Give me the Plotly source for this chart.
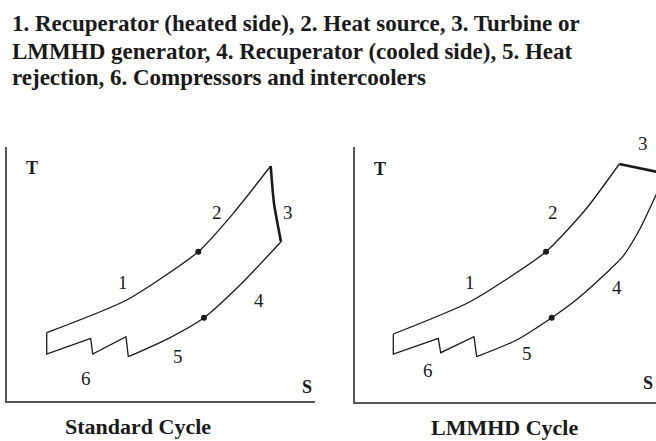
import plotly.graph_objects as go

# ---------------- data (entropy S, temperature T, arbitrary units) ----------------
TITLE_LINES = [
    "1. Recuperator (heated side), 2. Heat source, 3. Turbine or",
    "LMMHD generator, 4. Recuperator (cooled side), 5. Heat",
    "rejection, 6. Compressors and intercoolers",
]

# Standard cycle
std_heat_s = [39.7, 119.7, 191.3, 226.3, 263.7]
std_heat_t = [68.3, 101.0, 149.3, 187.7, 235.0]
std_turb_s = [263.7, 267.0, 274.0]
std_turb_t = [235.0, 197.7, 159.3]
std_cool_s = [274.0, 236.3, 197.0, 159.7, 121.3]
std_cool_t = [159.3, 119.3, 83.3, 61.7, 44.3]
std_comp_s = [121.3, 119.0, 85.7, 83.7, 39.7, 39.7]
std_comp_t = [44.3, 64.3, 47.0, 62.7, 47.0, 68.3]
std_dot_s = [191.3, 197.0]
std_dot_t = [149.3, 83.3]
std_lbl = ["1", "2", "3", "4", "5", "6"]
std_lbl_s = [116, 210, 281, 252, 171, 79]
std_lbl_t = [119, 189, 189, 101, 45, 23]

# LMMHD cycle
mhd_heat_s = [38.3, 115.0, 191.0, 231.0, 264.3]
mhd_heat_t = [68.0, 100.3, 150.3, 193.0, 238.0]
mhd_turb_s = [264.3, 301.0, 315.0]
mhd_turb_t = [238.0, 230.3, 227.4]
mhd_cool_s = [308.0, 301.0, 284.3, 267.7, 251.0, 221.0, 196.7, 161.7, 121.7]
mhd_cool_t = [222.0, 207.0, 172.0, 145.3, 128.7, 102.0, 84.3, 62.0, 45.3]
mhd_comp_s = [121.7, 119.0, 85.7, 83.3, 38.3, 38.3]
mhd_comp_t = [45.3, 65.3, 49.3, 63.7, 48.0, 68.0]
mhd_dot_s = [191.0, 196.7]
mhd_dot_t = [150.3, 84.3]
mhd_lbl = ["1", "2", "3", "4", "5", "6"]
mhd_lbl_s = [115, 198, 288, 262, 172, 73]
mhd_lbl_t = [120, 190, 258, 115, 49, 32]

SERIF = "Liberation Serif, Times New Roman, serif"
INK = "#1a1a1a"

fig = go.Figure()


def add_cycle(xa, ya, heat, turb, cool, comp, dots):
    for (s, t), w, smooth in ((heat, 1.3, True), (cool, 1.3, True),
                              (comp, 1.3, False), (turb, 2.6, True)):
        line = dict(color=INK, width=w)
        if smooth:
            line.update(shape="spline", smoothing=0.6)
        fig.add_trace(go.Scatter(x=s, y=t, mode="lines", xaxis=xa, yaxis=ya, line=line,
                                 hoverinfo="skip", showlegend=False))
    fig.add_trace(go.Scatter(x=dots[0], y=dots[1], mode="markers", xaxis=xa, yaxis=ya,
                             marker=dict(color=INK, size=6), hoverinfo="skip", showlegend=False))


add_cycle("x", "y", (std_heat_s, std_heat_t), (std_turb_s, std_turb_t),
          (std_cool_s, std_cool_t), (std_comp_s, std_comp_t), (std_dot_s, std_dot_t))
add_cycle("x2", "y2", (mhd_heat_s, mhd_heat_t), (mhd_turb_s, mhd_turb_t),
          (mhd_cool_s, mhd_cool_t), (mhd_comp_s, mhd_comp_t), (mhd_dot_s, mhd_dot_t))

# panel geometry in pixels (used to place labels that sit outside a plot area)
PANEL2_X0, PANEL2_Y0, W, H = 355, 402, 656, 441

ann = []
for lbls, ss, ts, xr, yr in ((std_lbl, std_lbl_s, std_lbl_t, "x", "y"),
                             (mhd_lbl, mhd_lbl_s, mhd_lbl_t, "x2", "y2")):
    for l, s, t in zip(lbls, ss, ts):
        if xr == "x2" and t > 254:
            # label above the plot area: place it on the paper
            ann.append(dict(x=(PANEL2_X0 + s) / W, y=1 - (PANEL2_Y0 - t) / H,
                            xref="paper", yref="paper", xanchor="center", yanchor="middle",
                            text=l, showarrow=False,
                            font=dict(family=SERIF, size=19, color=INK)))
        else:
            ann.append(dict(x=s, y=t, xref=xr, yref=yr, text=l, showarrow=False,
                            font=dict(family=SERIF, size=19, color=INK)))
    ann.append(dict(x=25, y=233, xref=xr, yref=yr, text="<b>T</b>", showarrow=False,
                    font=dict(family=SERIF, size=18, color=INK)))
ann.append(dict(x=300, y=14, xref="x", yref="y", text="<b>S</b>", showarrow=False,
                font=dict(family=SERIF, size=18, color=INK)))
ann.append(dict(x=293, y=19, xref="x2", yref="y2", text="<b>S</b>", showarrow=False,
                font=dict(family=SERIF, size=18, color=INK)))
ann.append(dict(x=138 / W, y=1 - 426 / H, xref="paper", yref="paper",
                xanchor="center", yanchor="middle",
                text="<b>Standard Cycle</b>", showarrow=False,
                font=dict(family=SERIF, size=22, color=INK)))
ann.append(dict(x=504 / W, y=1 - 427 / H, xref="paper", yref="paper",
                xanchor="center", yanchor="middle",
                text="<b>LMMHD Cycle</b>", showarrow=False,
                font=dict(family=SERIF, size=22, color=INK)))
for i, line in enumerate(TITLE_LINES):
    ann.append(dict(x=10 / W, y=1 - (24 + 27 * i) / H, xref="paper", yref="paper",
                    xanchor="left", yanchor="middle", text="<b>" + line + "</b>",
                    showarrow=False, font=dict(family=SERIF, size=23, color=INK)))

ax = dict(showgrid=False, zeroline=False, showticklabels=False, ticks="",
          showline=True, linecolor="#555555", linewidth=1.5, fixedrange=True)
fig.update_layout(
    width=W, height=H, margin=dict(l=0, r=0, t=0, b=0),
    paper_bgcolor="white", plot_bgcolor="white",
    xaxis=dict(ax, domain=[7 / W, 315 / W], range=[0, 308]),
    yaxis=dict(ax, domain=[40 / H, 294 / H], range=[0, 254]),
    xaxis2=dict(ax, domain=[355 / W, 1], range=[0, 301], anchor="y2"),
    yaxis2=dict(ax, domain=[39 / H, 294 / H], range=[0, 255], anchor="x2"),
    annotations=ann,
)

fig.write_html("out.html", config={"displayModeBar": False},
               post_script="document.body.style.margin='0';")
